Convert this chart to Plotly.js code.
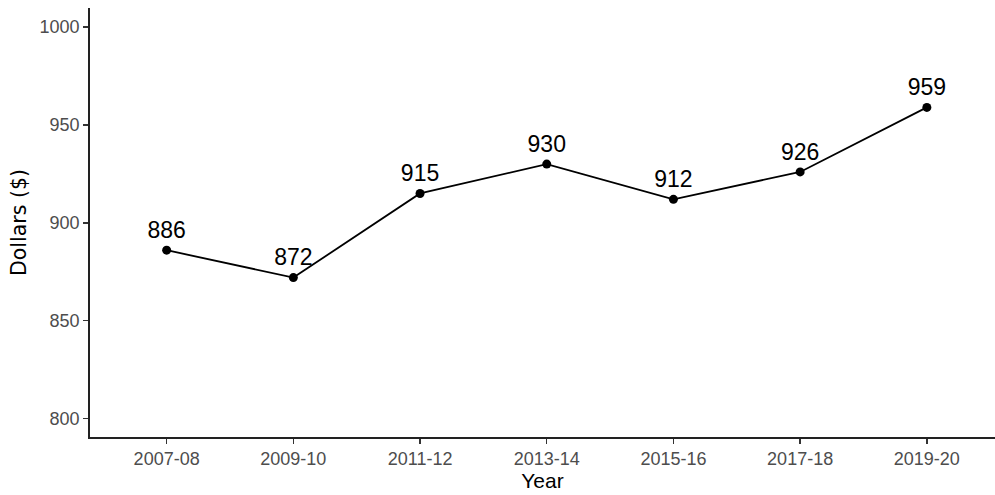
<!DOCTYPE html>
<html>
<head>
<meta charset="utf-8">
<script src="https://cdn.plot.ly/plotly-3.0.1.min.js"></script>
<style>html,body{margin:0;padding:0;background:#fff;}#chart{width:995px;height:495px;}</style>
</head>
<body>
<div id="chart"></div>
<script>
const years = ["2007-08", "2009-10", "2011-12", "2013-14", "2015-16", "2017-18", "2019-20"];
const dollars = [886, 872, 915, 930, 912, 926, 959];
const yTicks = [800, 850, 900, 950, 1000];

const trace = {
  x: years.map((_, i) => i),
  y: dollars,
  type: "scatter",
  mode: "lines+markers+text",
  text: dollars.map(String),
  textposition: "top center",
  textfont: {family: "Liberation Sans, Arial, sans-serif", size: 23, color: "#000"},
  line: {color: "#000", width: 1.8},
  marker: {color: "#000", size: 9},
  cliponaxis: false,
  hoverinfo: "none"
};

const layout = {
  width: 995,
  height: 495,
  margin: {l: 90, r: 0, t: 8, b: 58},
  paper_bgcolor: "#fff",
  plot_bgcolor: "#fff",
  showlegend: false,
  font: {family: "Liberation Sans, Arial, sans-serif"},
  xaxis: {
    range: [-0.605, 6.538],
    tickmode: "array",
    tickvals: years.map((_, i) => i),
    ticktext: years,
    showgrid: false,
    zeroline: false,
    showline: true,
    linecolor: "#222",
    linewidth: 1.8,
    ticks: "outside",
    ticklen: 5,
    tickwidth: 1.5,
    tickcolor: "#333",
    tickfont: {size: 18, color: "#4d4d4d"},
    title: {text: "Year", font: {size: 21, color: "#000"}, standoff: 2}
  },
  yaxis: {
    range: [790.5, 1009.8],
    tickmode: "array",
    tickvals: yTicks,
    ticktext: yTicks.map(String),
    showgrid: false,
    zeroline: false,
    showline: true,
    linecolor: "#222",
    linewidth: 1.8,
    ticks: "outside",
    ticklen: 5,
    tickwidth: 1.5,
    tickcolor: "#333",
    tickfont: {size: 18, color: "#4d4d4d"},
    title: {text: "Dollars ($)", font: {family: "DejaVu Sans, sans-serif", size: 20.5, color: "#000"}, standoff: 7}
  }
};

Plotly.newPlot("chart", [trace], layout, {displayModeBar: false, staticPlot: true});
</script>
</body>
</html>
